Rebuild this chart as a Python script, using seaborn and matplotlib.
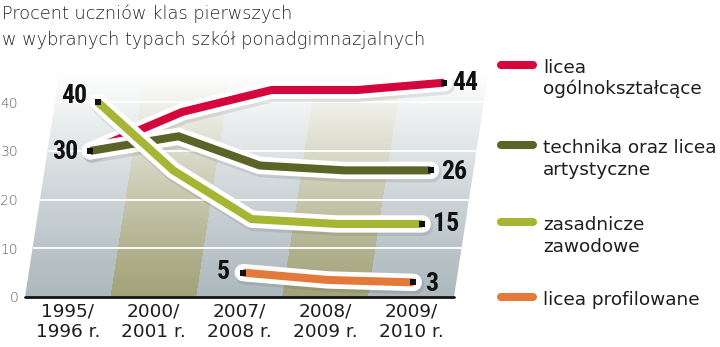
import numpy as np
import pandas as pd
import matplotlib
matplotlib.use("Agg")
import matplotlib.pyplot as plt
import matplotlib.patheffects as pe
from matplotlib import font_manager
from matplotlib.transforms import Affine2D
from matplotlib.lines import Line2D
from matplotlib.colors import to_rgb
import seaborn as sns

# ---- data -------------------------------------------------------------
school_years = ["1995/\n1996 r.", "2000/\n2001 r.", "2007/\n2008 r.",
                "2008/\n2009 r.", "2009/\n2010 r."]
licea_ogolnoksztalcace = [30, 38, 42.5, 42.5, 44]
technika_licea_artystyczne = [30, 33, 27, 26, 26]
zasadnicze_zawodowe = [40, 26, 16, 15, 15]
licea_profilowane = [np.nan, np.nan, 5, 3.5, 3]

series_names = ["licea ogólnokształcące", "technika oraz licea artystyczne",
                "zasadnicze zawodowe", "licea profilowane"]
legend_text = [["licea", "ogólnokształcące"],
               ["technika oraz licea", "artystyczne"],
               ["zasadnicze", "zawodowe"],
               ["licea profilowane"]]
colors = ["#d4063c", "#5b6427", "#a6b533", "#e37a3b"]
y_ticks = [0, 10, 20, 30, 40]

title_lines = ["Procent uczniów klas pierwszych",
               "w wybranych typach szkół ponadgimnazjalnych"]

# which end points carry a value label: (series index, position index)
labelled_points = [(0, 4), (1, 0), (1, 4), (2, 0), (2, 4), (3, 2), (3, 4)]
# label offsets in pixels (dx, dy, horizontal alignment)
label_offsets = {(0, 4): (8, 0, "left"), (1, 0): (-12, -1, "right"),
                 (1, 4): (11, -2, "left"), (2, 0): (-11, 6, "right"),
                 (2, 4): (11, 0, "left"), (3, 2): (-13, 1, "right"),
                 (3, 4): (12, -2, "left")}

all_values = [licea_ogolnoksztalcace, technika_licea_artystyczne,
              zasadnicze_zawodowe, licea_profilowane]

rows = []
for name, vals in zip(series_names, all_values):
    for pos, v in enumerate(vals):
        if not np.isnan(v):
            rows.append({"pos": pos, "value": v, "series": name})
df = pd.DataFrame(rows)


# ---- font helpers -------------------------------------------------------
def _weight(w):
    if isinstance(w, str):
        return font_manager.weight_dict.get(w, 400)
    return int(w)


def pick_font(candidates):
    """Return the first (family, weight, stretch) whose face is installed."""
    for fam, wmax, wmin, stretch in candidates:
        for f in font_manager.fontManager.ttflist:
            if f.name != fam:
                continue
            if not (wmin <= _weight(f.weight) <= wmax):
                continue
            if stretch is not None and f.stretch != stretch:
                continue
            return dict(family=[fam, "DejaVu Sans"], fontweight=_weight(f.weight),
                        fontstretch=f.stretch)
    return dict(family=["DejaVu Sans"], fontweight="normal")


title_font = pick_font([("DejaVu Sans", 250, 100, None),
                        ("Open Sans", 350, 250, None),
                        ("Roboto", 350, 250, None),
                        ("Lato", 350, 250, None),
                        ("DejaVu Sans", 400, 400, None)])
value_font = pick_font([("Roboto Condensed", 700, 700, None),
                        ("Liberation Sans Narrow", 700, 700, None),
                        ("DejaVu Sans", 700, 700, "condensed"),
                        ("Open Sans Condensed", 700, 700, None),
                        ("DejaVu Sans", 700, 700, None)])

# ---- style ------------------------------------------------------------
sns.set_style("white")
plt.rcParams["font.family"] = ["DejaVu Sans"]

W, H = 720, 347
fig = plt.figure(figsize=(W / 100, H / 100), dpi=100)
px_per_unit = 4.87
ymax = 48
ax = fig.add_axes([25 / W, 50 / H, 429 / W, ymax * px_per_unit / H])
ax.set_xlim(-0.5, 4.5)
ax.set_ylim(0, ymax)

# slanted (sheared) data space for the whole plot body
col_px = 429 / 5
shear = 0.75 / col_px
skew = Affine2D(np.array([[1.0, shear, 0.0], [0.0, 1.0, 0.0], [0.0, 0.0, 1.0]]))
trans = skew + ax.transData

# ---- background: fading columns ----------------------------------------
n_rows = 240
yy = np.linspace(0, ymax, n_rows)
fade = np.clip(yy / 46.0, 0, 1) ** 1.15
plain = np.array(to_rgb("#adb9be"))
band = np.array(to_rgb("#a2a379"))
img = np.ones((n_rows, 5, 4))
for c in range(5):
    base = band if c in (1, 3) else plain
    img[:, c, :3] = base[None, :] * (1 - fade[:, None]) + fade[:, None]
bg = ax.imshow(img, extent=(-0.5, 4.5, 0, ymax), origin="lower",
               interpolation="nearest", aspect="auto", transform=trans, zorder=0)
bg.set_clip_on(False)

ax.hlines(y_ticks[1:], -0.5, 4.5, colors="white", linewidth=1.3,
          transform=trans, zorder=1, clip_on=False)
ax.axhline(0, color="#151515", lw=2.0, zorder=2, clip_on=False)

# ---- lines --------------------------------------------------------------
sns.lineplot(data=df, x="pos", y="value", hue="series", hue_order=series_names,
             palette=colors, linewidth=5.8, legend=False, sort=False,
             estimator=None, ax=ax)
for line in ax.lines:
    rgb = np.array(to_rgb(line.get_color()))
    match = [i for i, c in enumerate(colors) if np.allclose(rgb, to_rgb(c), atol=0.01)]
    if not match:
        continue
    i = match[0]
    line.set_transform(trans)
    line.set_solid_capstyle("butt")
    line.set_solid_joinstyle("round")
    line.set_clip_on(False)
    line.set_zorder(3 + i)
    line.set_path_effects([
        pe.SimpleLineShadow(offset=(1.2, -1.8), shadow_color="#40484c",
                            alpha=0.13, linewidth=13.5, capstyle="round"),
        pe.Stroke(linewidth=12.5, foreground="white", capstyle="round",
                  joinstyle="round"),
        pe.Normal(),
    ])

ends = pd.DataFrame([{"pos": p, "value": all_values[s][p], "series": series_names[s]}
                     for s, p in labelled_points])
sns.scatterplot(data=ends, x="pos", y="value", marker="s", color="#111111",
                s=24, linewidth=0, legend=False, ax=ax, zorder=10)
ax.collections[-1].set_offset_transform(trans)
ax.collections[-1].set_clip_on(False)

for s, p in labelled_points:
    v = all_values[s][p]
    dx, dy, ha = label_offsets[(s, p)]
    ax.annotate(f"{v:g}", xy=(p, v), xycoords=trans, xytext=(dx, dy),
                textcoords="offset pixels", ha=ha, va="center",
                fontsize=18.5, color="#111111", zorder=12,
                annotation_clip=False, **value_font)

ax.set_xlim(-0.5, 4.5)
ax.set_ylim(0, ymax)

# ---- axes decoration ----------------------------------------------------
ax.set_yticks(y_ticks)
ax.set_yticklabels([str(t) for t in y_ticks], fontsize=10, color="#5e5e5e",
                   **title_font)
ax.set_xticks(range(len(school_years)))
ax.set_xticklabels(school_years, fontsize=13.3, color="#1e1e1e", linespacing=1.15)
ax.tick_params(axis="y", length=0, pad=5)
ax.tick_params(axis="x", length=0, pad=4)
ax.set_xlabel("")
ax.set_ylabel("")
for sp in ax.spines.values():
    sp.set_visible(False)
ax.set_facecolor("none")

# ---- title ---------------------------------------------------------------
for k, txt in enumerate(title_lines):
    fig.text(2 / W, 1 - (19 + 26 * k) / H, txt, ha="left", va="baseline",
             fontsize=12.8, color="#262626", **title_font)

# ---- legend ----------------------------------------------------------------
legend_y = [65, 145, 222, 297]
for c, ypx, lines in zip(colors, legend_y, legend_text):
    fig.add_artist(Line2D([501 / W, 533 / W], [1 - ypx / H] * 2,
                          transform=fig.transFigure, lw=5.8, color=c,
                          solid_capstyle="round"))
    for j, t in enumerate(lines):
        fig.text(543 / W, 1 - (ypx + 8 + 21.5 * j) / H, t, ha="left",
                 va="baseline", fontsize=13.3, color="#1e1e1e")

fig.savefig("out.png", dpi=100)
